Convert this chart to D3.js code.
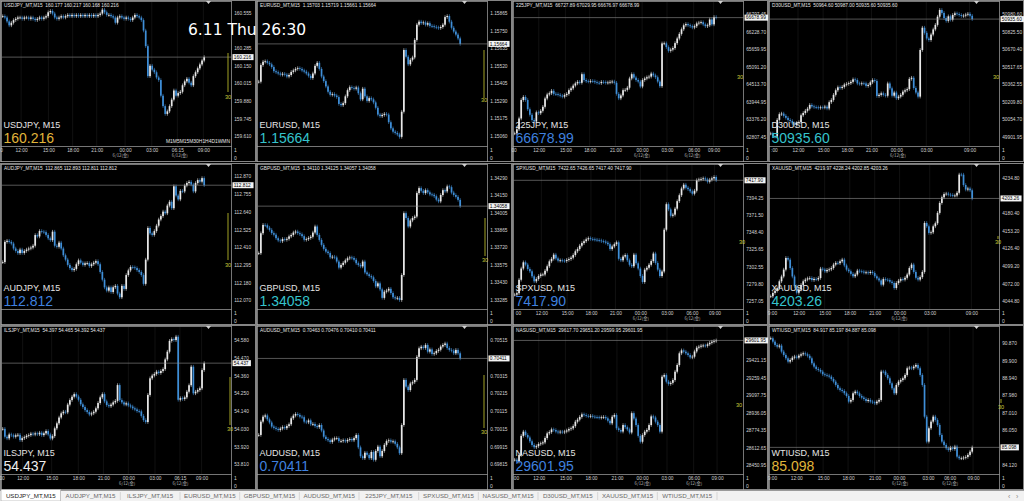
<!DOCTYPE html>
<html><head><meta charset="utf-8">
<script src="https://cdn.jsdelivr.net/npm/d3@7"></script>
<style>html,body{margin:0;padding:0;background:#000;overflow:hidden}svg{display:block}</style>
</head><body>
<svg id="c" width="1024" height="501"></svg>
<script>
// ---------------- DATA ----------------
const symbols = ["USDJPY","EURUSD","225JPY","D30USD","AUDJPY","GBPUSD","SPXUSD","XAUUSD","ILSJPY","AUDUSD","NASUSD","WTIUSD"];

const usdjpyClose = [160.53,160.52,160.49,160.46,160.48,160.50,160.51,160.52,160.52,160.51,
160.52,160.52,160.51,160.52,160.51,160.50,160.51,160.52,160.51,160.52,
160.53,160.56,160.57,160.55,160.52,160.51,160.52,160.53,160.52,160.53,
160.54,160.53,160.54,160.53,160.54,160.53,160.54,160.53,160.54,160.53,
160.54,160.53,160.54,160.53,160.54,160.55,160.58,160.56,160.54,160.54,
160.53,160.52,160.48,160.52,160.53,160.52,160.51,160.52,160.51,160.50,
160.52,160.54,160.53,160.52,160.50,160.42,160.30,160.07,160.15,160.12,
160.10,160.06,160.04,159.92,159.84,159.78,159.80,159.84,159.89,159.96,
159.92,159.94,159.95,160.00,160.03,160.05,160.02,160.00,160.07,160.10,
160.13,160.16,160.19,160.216];
const eurusdClose = [1.15416,1.15525,1.15547,1.15550,1.15540,1.15530,1.15512,1.15485,1.15478,1.15470,
1.15462,1.15468,1.15462,1.15450,1.15460,1.15480,1.15490,1.15500,1.15505,1.15500,
1.15490,1.15482,1.15470,1.15455,1.15440,1.15470,1.15520,1.15540,1.15500,1.15450,
1.15420,1.15385,1.15350,1.15330,1.15335,1.15325,1.15315,1.15270,1.15262,1.15275,
1.15320,1.15360,1.15380,1.15375,1.15370,1.15378,1.15340,1.15300,1.15370,1.15320,
1.15290,1.15308,1.15300,1.15280,1.15245,1.15200,1.15190,1.15198,1.15205,1.15200,
1.15150,1.15110,1.15088,1.15080,1.15070,1.15054,1.15219,1.15624,1.15580,1.15530,
1.15560,1.15575,1.15690,1.15790,1.15810,1.15800,1.15805,1.15790,1.15800,1.15782,
1.15780,1.15776,1.15772,1.15768,1.15775,1.15790,1.15840,1.15847,1.15810,1.15770,
1.15745,1.15725,1.15700,1.15664];
const jp225Close = [62916,63050,63400,64000,64100,64000,63700,63520,63350,63300,
63600,63570,63650,63780,64050,64180,64220,64300,64200,64190,
64170,64140,64110,64160,64200,64320,64380,64470,64540,64590,
64560,64840,64650,64610,64600,64620,64610,64580,64560,64550,
64590,64580,64560,64570,64590,64600,64560,64200,64055,64150,
64320,64330,64400,64700,64840,64730,64650,64600,64440,64650,
64700,64740,64760,64860,64800,64740,64600,64450,65840,65843,
65720,65600,65640,65690,65850,66000,66150,66300,66430,66470,
66430,66400,66360,66400,66490,66515,66530,66460,66400,66430,
66620,66460,66700,66678.99];
const d30Close = [49930,49905,49902,50050,50100,50105,50085,50068,50049,50040,
50018,50006,50022,50030,50090,50110,50130,50148,50181,50168,
50162,50160,50155,50160,50158,50166,50150,50205,50225,50270,
50310,50336,50330,50340,50360,50366,50372,50384,50406,50400,
50370,50366,50371,50370,50348,50357,50380,50400,50392,50260,
50270,50283,50270,50262,50370,50327,50262,50290,50240,50254,
50270,50298,50310,50320,50410,50420,50330,50290,50254,50664,
50860,50815,50765,50752,50800,50845,50885,50957,51016,50990,
50945,50920,50960,50930,50972,50986,50980,50972,50963,50966,
50975,50982,50965,50935.60];
const audjpyClose = [112.314,112.445,112.452,112.445,112.434,112.402,112.386,112.372,112.395,112.373,
112.386,112.395,112.402,112.408,112.420,112.489,112.480,112.515,112.511,112.508,
112.490,112.468,112.456,112.511,112.420,112.413,112.440,112.402,112.358,112.330,
112.296,112.275,112.262,112.270,112.300,112.325,112.310,112.296,112.306,112.308,
112.288,112.300,112.310,112.320,112.300,112.250,112.200,112.150,112.129,112.150,
112.120,112.151,112.160,112.110,112.086,112.160,112.140,112.230,112.260,112.282,
112.280,112.275,112.262,112.250,112.230,112.173,112.330,112.535,112.500,112.490,
112.515,112.550,112.590,112.612,112.641,112.630,112.680,112.705,112.663,112.805,
112.745,112.720,112.775,112.772,112.810,112.826,112.834,112.816,112.772,112.826,
112.845,112.835,112.858,112.812];
const gbpusdClose = [1.33669,1.33834,1.33903,1.33900,1.33880,1.33862,1.33835,1.33822,1.33793,1.33775,
1.33768,1.33786,1.33780,1.33788,1.33808,1.33820,1.33840,1.33848,1.33835,1.33826,
1.33810,1.33780,1.33785,1.33795,1.33805,1.33840,1.33890,1.33820,1.33779,1.33738,
1.33705,1.33682,1.33670,1.33635,1.33640,1.33634,1.33600,1.33550,1.33572,1.33590,
1.33610,1.33627,1.33634,1.33630,1.33615,1.33586,1.33572,1.33560,1.33600,1.33510,
1.33495,1.33480,1.33470,1.33440,1.33395,1.33420,1.33370,1.33300,1.33351,1.33360,
1.33375,1.33340,1.33305,1.33296,1.33300,1.33282,1.33489,1.34000,1.33960,1.33890,
1.33940,1.33960,1.33972,1.34166,1.34207,1.34185,1.34166,1.34190,1.34172,1.34155,
1.34152,1.34140,1.34112,1.34097,1.34150,1.34190,1.34180,1.34221,1.34215,1.34170,
1.34150,1.34135,1.34110,1.34058];
const spxClose = [7265.1,7267.0,7285.0,7300.0,7308.3,7305.2,7299.4,7296.3,7289.6,7282.9,
7286.0,7290.0,7292.0,7292.0,7297.0,7303.0,7309.6,7313.0,7318.5,7313.5,
7310.5,7311.0,7310.5,7310.0,7311.5,7312.7,7314.5,7318.0,7323.0,7326.0,
7330.5,7334.0,7336.5,7339.0,7340.5,7339.5,7339.0,7338.5,7338.0,7337.5,
7336.5,7336.0,7334.5,7332.5,7326.0,7329.5,7332.5,7335.0,7313.0,7311.0,
7316.0,7318.0,7311.0,7305.0,7303.0,7318.5,7307.0,7300.0,7290.0,7282.0,
7298.5,7301.0,7305.0,7310.0,7320.0,7307.4,7298.5,7290.0,7296.0,7351.9,
7386.0,7379.0,7370.5,7372.0,7380.0,7390.0,7398.0,7407.0,7412.0,7408.0,
7406.0,7403.2,7400.0,7404.0,7418.0,7419.0,7419.6,7420.5,7419.0,7416.0,
7418.7,7420.5,7422.3,7417.9];
const xauClose = [4052.5,4057.6,4061.0,4065.0,4075.6,4083.0,4093.6,4111.5,4109.0,4096.0,
4083.0,4067.9,4058.0,4063.0,4070.0,4075.6,4078.2,4080.0,4080.7,4077.5,
4079.2,4078.5,4080.7,4095.0,4093.6,4091.0,4093.0,4094.0,4096.1,4101.3,
4104.0,4103.5,4106.4,4109.0,4100.0,4093.6,4091.0,4087.0,4083.3,4086.0,
4092.0,4091.0,4090.5,4089.0,4089.4,4088.4,4090.0,4088.4,4083.3,4080.0,
4077.0,4070.4,4079.0,4078.0,4077.5,4075.0,4073.0,4065.3,4073.0,4076.5,
4079.0,4078.2,4081.0,4086.0,4096.0,4101.3,4090.0,4081.0,4078.2,4082.0,
4090.0,4165.5,4160.3,4150.1,4151.1,4160.3,4165.0,4181.0,4196.3,4205.0,
4210.0,4210.7,4209.1,4208.5,4207.6,4207.8,4212.0,4240.0,4239.9,4224.0,
4217.0,4218.5,4215.8,4203.26];
const ilsjpyClose = [54.030,53.981,53.971,53.995,53.990,53.981,53.990,53.993,53.960,53.972,
53.978,53.987,53.991,54.000,53.995,54.002,53.996,54.006,53.991,54.002,
54.016,53.995,53.970,53.985,54.033,54.064,54.100,54.126,54.136,54.132,
54.180,54.208,54.229,54.245,54.230,54.210,54.182,54.165,54.146,54.134,
54.119,54.126,54.136,54.157,54.190,54.225,54.245,54.200,54.177,54.170,
54.180,54.194,54.203,54.301,54.208,54.194,54.181,54.188,54.175,54.168,
54.157,54.150,54.140,54.138,54.110,54.084,54.072,54.240,54.343,54.360,
54.370,54.384,54.376,54.388,54.400,54.460,54.508,54.575,54.586,54.580,
54.601,54.210,54.220,54.215,54.225,54.260,54.300,54.415,54.250,54.260,
54.270,54.281,54.394,54.437];
const audusdClose = [0.69980,0.70055,0.70083,0.70090,0.70068,0.70050,0.70027,0.70020,0.70014,0.70008,
0.70016,0.70024,0.70018,0.70030,0.70040,0.70074,0.70089,0.70098,0.70093,0.70083,
0.70080,0.70055,0.70051,0.70062,0.70040,0.70042,0.70030,0.70024,0.70036,0.70005,
0.69970,0.69957,0.69950,0.69940,0.69954,0.69961,0.69962,0.69945,0.69946,0.69950,
0.69944,0.69952,0.69957,0.69950,0.69962,0.69980,0.69910,0.69860,0.69849,0.69880,
0.69868,0.69849,0.69884,0.69840,0.69890,0.69914,0.69860,0.69890,0.69924,0.69945,
0.69950,0.69942,0.69944,0.69930,0.69910,0.69877,0.70036,0.70290,0.70252,0.70233,
0.70270,0.70277,0.70290,0.70420,0.70468,0.70477,0.70470,0.70487,0.70449,0.70462,
0.70436,0.70440,0.70453,0.70460,0.70478,0.70487,0.70495,0.70470,0.70459,0.70455,
0.70440,0.70459,0.70440,0.70411];
const nasClose = [28500,28482,28543,28720,28759,28728,28705,28670,28636,28615,
28625,28645,28651,28660,28700,28743,28755,28780,28774,28760,
28752,28759,28753,28760,28770,28783,28790,28810,28851,28870,
28895,28919,28913,28905,28900,28905,28897,28894,28892,28888,
28892,28895,28882,28860,28836,28897,28913,28790,28774,28760,
28820,28800,28780,28751,28930,28880,28820,28720,28666,28728,
28759,28775,28820,28900,28890,28851,28820,28759,29267,29282,
29221,29200,29210,29236,29313,29375,29483,29510,29498,29483,
29467,29445,29452,29500,29535,29544,29553,29555,29552,29566,
29580,29590,29597,29601.95];
const wtiClose = [91.147,90.962,90.778,90.685,90.741,90.408,90.223,90.038,89.853,89.946,
90.075,90.131,90.075,90.186,90.260,90.315,90.260,90.180,90.038,89.761,
89.576,89.447,89.391,89.299,89.151,89.114,89.077,89.022,88.892,88.744,
88.559,88.375,88.282,88.227,88.097,87.950,87.635,87.728,88.097,88.190,
88.097,87.950,87.857,87.783,87.672,87.728,87.635,87.600,87.543,87.635,
87.728,89.300,89.299,89.114,88.929,88.652,88.375,88.097,88.559,88.744,
88.837,88.929,89.114,89.484,89.521,89.484,89.576,89.669,89.484,89.114,
88.559,86.800,85.417,86.157,86.526,86.803,86.619,86.341,85.787,85.417,
85.232,85.047,84.955,85.084,85.010,85.140,84.585,84.493,84.493,84.530,
84.567,84.678,84.860,85.098];

// visible price range of each panel's vertical scale
const priceRanges = [[159.534,160.639],[1.14994,1.15939],[62505,67187],[49820,51086],
 [112.010,112.943],[1.33208,1.34398],[7245.9,7438.35],[4032.9,4254.8],
 [53.750,54.661],[0.69760,0.70588],[28367.8,29726],[83.621,91.774]];
// price-axis tick labels
const priceTicks = [
 [160.555,160.285,160.150,160.015,159.880,159.745,159.610],
 [1.15865,1.15750,1.15635,1.15520,1.15405,1.15290,1.15175,1.15060],
 [66797.45,66228.70,65659.95,65091.20,64513.70,63944.95,63376.20,62807.45],
 [50980.60,50825.50,50670.40,50517.65,50362.55,50209.80,50054.70,49901.95],
 [112.870,112.755,112.640,112.525,112.410,112.295,112.180,112.070],
 [1.34290,1.34150,1.34005,1.33865,1.33720,1.33575,1.33430,1.33285],
 [7394.25,7371.50,7348.40,7325.65,7302.55,7279.80,7257.05],
 [4234.80,4180.40,4153.20,4126.40,4099.20,4072.00,4044.80],
 [54.580,54.470,54.360,54.250,54.140,54.030,53.920,53.810],
 [0.70515,0.70315,0.70215,0.70115,0.70015,0.69915,0.69815],
 [29421.15,29259.45,29097.75,28936.05,28774.35,28612.65,28450.95],
 [90.870,89.900,88.940,87.980,87.010,86.050,84.120]];
const decimals = [3,5,2,2,3,5,2,2,3,5,2,3];
// header OHLC of the last bar
const headerOHLC = [
 [160.177,160.217,160.168,160.216],[1.15703,1.15719,1.15661,1.15664],
 [66727.89,67029.95,66676.97,66678.99],[50964.60,50987.00,50935.60,50935.60],
 [112.865,112.893,112.811,112.812],[1.34110,1.34125,1.34057,1.34058],
 [7422.65,7426.65,7417.40,7417.90],[4219.97,4228.24,4202.85,4203.26],
 [54.397,54.465,54.392,54.437],[0.70463,0.70476,0.70410,0.70411],
 [29617.70,29651.20,29599.95,29601.95],[84.917,85.197,84.887,85.098]];
// time axis labels (null = panel has an empty sub-window instead of a time axis)
const timeLabels = [
 ["0","12:00","15:00","18:00","21:00","00:00","03:00","06:15","09:00"], null,
 ["00","12:00","15:00","18:00","21:00","00:00","03:00","06:00","09:00"],
 [":00","12:00","15:00","18:00","21:00","00:00","03:00","09:00"],
 null, null,
 ["00","12:00","15:00","18:00","21:00","00:00","03:00","06:00","09:00"],
 ["9:00","12:00","15:00","18:00","21:00","00:00","03:00","09:00"],
 ["00","12:00","15:00","18:00","21:00","00:00","03:00","06:15","09:00"], null,
 ["00","12:00","15:00","18:00","21:00","00:00","03:00","06:00","09:00"],
 ["9:00","12:00","15:00","18:00","21:00","00:00","03:00","06:00","09:00"]];
// bar index under each time label
const timeBars = [
 [-0.8,8.5,21.1,32.3,43.4,56.5,68.8,80.6,92.6], null,
 [-0.5,11.1,23.4,34.6,46.5,58.8,70.3,82.6,91.8],
 [1.5,12.6,24.2,35.2,46.5,58,71.8,91.8],
 null, null,
 [1.5,12.3,24.2,35.2,46.5,58,70.3,81.8,92.2],
 [0.6,12.9,24.9,36.5,48,59.5,73.4,92.6],
 [-0.5,9.2,22.6,34.9,46.5,58,70.3,81.8,91.8], null,
 [0.6,11.1,23.4,35.2,47.2,58.8,70.3,82.6,93.4],
 [0.6,11.8,24.2,35.7,48,59.2,72.6,82.6,93.4]];
const dateLabel = "6/12(金)";
const dateBars = [[54.2,81.5],null,[58.5,81.8],[58.5],null,null,[58,81.8],[59.2],[57.2,81.8],null,[58.8,82.6],[59.5,82.6]];
const tabLabels = ["USDJPY_MT,M15","AUDJPY_MT,M15","ILSJPY_MT,M15","EURUSD_MT,M15","GBPUSD_MT,M15","AUDUSD_MT,M15",
 "225JPY_MT,M15","SPXUSD_MT,M15","NASUSD_MT,M15","D30USD_MT,M15","XAUUSD_MT,M15","WTIUSD_MT,M15"];
const closes = [usdjpyClose,eurusdClose,jp225Close,d30Close,audjpyClose,gbpusdClose,spxClose,xauClose,ilsjpyClose,audusdClose,nasClose,wtiClose];
const overlayText = "6.11 Thu 26:30";
const periodText = "M1M5M15M30H1H4D1WMN";

// ---------------- STYLE / LAYOUT ----------------
const priceColors = ["#e0b53a","#35c3cc","#3f80df","#35c3cc","#3f80df","#35c3cc","#3f80df","#35c3cc","#eeeeee","#3f80df","#3f80df","#e0b53a"];
const markerLayout = [
 {x:228,l:[53,92],t:97},{x:228,l:[50,98],t:100},{x:228,l:null,t:77},{x:228,l:null,t:77},
 {x:228,l:[50,97],t:101.5},{x:229,l:[55,93],t:97},{x:230,l:null,t:79},{x:230,l:[73,76],t:79},
 {x:230,l:[52,100],t:104},{x:228,l:[50,103],t:107},{x:227,l:null,t:80},{x:233,l:[74,78],t:82}];
const colX = [0,256,512,768], rowY = [0,163,325], plotBot = [146,146,149], panelH = [162,162,165];
const BULL = "#e8e8e8", BEAR = "#3f8fd8";
const FONT = "'Liberation Sans', Arial, sans-serif";

const svg = d3.select("#c");
svg.append("rect").attr("width",1024).attr("height",501).attr("fill","#000");
const defs = svg.append("defs");

closes.forEach((close, k) => {
  const col = k % 4, row = Math.floor(k / 4);
  const px = colX[col], py = rowY[row];
  const top = py + 2, bottom = py + plotBot[row], pb = py + panelH[row];
  const dec = decimals[k];
  const fmt = d3.format("." + dec + "f");
  const g = svg.append("g");
  const x = d3.scaleLinear().domain([0, close.length - 1]).range([px + 2.7, px + 204.2]);
  const y = d3.scaleLinear().domain(priceRanges[k]).range([bottom, top]);

  // frames
  g.append("rect").attr("x", px + 0.5).attr("y", py + 0.5).attr("width", 255).attr("height", panelH[row] - 1)
    .attr("fill", "none").attr("stroke", "#858585").attr("stroke-width", 1);
  g.append("line").attr("x1", px + 1).attr("x2", px + 231.5).attr("y1", py + 1.5).attr("y2", py + 1.5).attr("stroke", "#a8a8a8").attr("stroke-width", 0.7);
  g.append("line").attr("x1", px + 1.5).attr("x2", px + 1.5).attr("y1", py + 1).attr("y2", pb).attr("stroke", "#a8a8a8").attr("stroke-width", 0.7);
  g.append("line").attr("x1", px + 231.5).attr("x2", px + 231.5).attr("y1", py + 1).attr("y2", pb).attr("stroke", "#a8a8a8").attr("stroke-width", 0.7);
  g.append("line").attr("x1", px + 1).attr("x2", px + 231.5).attr("y1", bottom + 0.5).attr("y2", bottom + 0.5).attr("stroke", "#a8a8a8").attr("stroke-width", 0.7);

  // faint period separators
  if (timeBars[k]) {
    g.selectAll(".sep").data(timeBars[k].slice(1)).enter().append("line")
      .attr("x1", d => x(d)).attr("x2", d => x(d)).attr("y1", top).attr("y2", bottom)
      .attr("stroke", "#181818").attr("stroke-width", 0.7);
  }

  // candles
  const cid = "clip" + k;
  defs.append("clipPath").attr("id", cid).append("rect")
    .attr("x", px + 2).attr("y", top).attr("width", 229).attr("height", bottom - top);
  const bars = close.map((c, i) => ({ i, o: i ? close[i - 1] : c, c }));
  const cg = g.append("g").attr("clip-path", "url(#" + cid + ")");
  const cs = cg.selectAll(".cd").data(bars).enter().append("g");
  cs.append("line")
    .attr("x1", d => x(d.i)).attr("x2", d => x(d.i))
    .attr("y1", d => y(Math.max(d.o, d.c)) - 1.8).attr("y2", d => y(Math.min(d.o, d.c)) + 1.8)
    .attr("stroke", d => d.c >= d.o ? BULL : BEAR).attr("stroke-width", 0.6);
  cs.append("rect")
    .attr("x", d => x(d.i) - 0.85).attr("width", 1.7)
    .attr("y", d => y(Math.max(d.o, d.c)))
    .attr("height", d => Math.max(0.8, Math.abs(y(d.o) - y(d.c))))
    .attr("fill", d => d.c >= d.o ? BULL : BEAR);

  const last = close[close.length - 1];
  // current price line
  g.append("line").attr("x1", px + 1.5).attr("x2", px + 232).attr("y1", y(last)).attr("y2", y(last))
    .attr("stroke", "#8e8e8e").attr("stroke-width", 0.6);

  // header
  g.append("text").attr("x", px + 4).attr("y", py + 7).attr("font-family", FONT).attr("font-size", 4.8)
    .attr("fill", "#e6e6e6").attr("xml:space", "preserve")
    .text(symbols[k] + "_MT,M15  " + headerOHLC[k].map(fmt).join(" "));
  // chart-shift marker
  g.append("path").attr("d", `M${px + 206},${py + 1}L${px + 211},${py + 1}L${px + 208.5},${py + 4}Z`).attr("fill", "#d0d0d0");

  // symbol + big price
  g.append("text").attr("x", px + 3.5).attr("y", bottom - 17.6).attr("font-family", FONT).attr("font-size", 9)
    .attr("fill", "#e4e4e4").text(symbols[k] + ", M15");
  g.append("text").attr("x", px + 3.5).attr("y", bottom - 3.3).attr("font-family", FONT).attr("font-size", 14)
    .attr("fill", priceColors[k]).text(fmt(last));

  // price axis
  const ay = d3.axisRight(y).tickValues(priceTicks[k]).tickSize(0).tickPadding(2.2).tickFormat(fmt);
  g.append("g").attr("transform", `translate(${px + 232},0)`).call(ay)
    .attr("font-family", FONT).attr("font-size", 4.8).attr("color", "#d4d4d4")
    .call(s => s.select(".domain").remove());
  // current price box
  const lbl = fmt(last);
  const bw = lbl.length * 2.65 + 2.5;
  g.append("rect").attr("x", px + 232.5).attr("y", y(last) - 3).attr("width", bw).attr("height", 6).attr("fill", "#f4f4f4");
  g.append("text").attr("x", px + 233.8).attr("y", y(last) + 1.7).attr("font-family", FONT).attr("font-size", 4.8)
    .attr("fill", "#000").text(lbl);

  // sub-window scale 1 / 0
  g.append("text").attr("x", px + 234).attr("y", bottom + 6).attr("font-family", FONT).attr("font-size", 5).attr("fill", "#d4d4d4").text("1");
  g.append("text").attr("x", px + 234).attr("y", bottom + 14).attr("font-family", FONT).attr("font-size", 5).attr("fill", "#d4d4d4").text("0");

  // time axis
  if (timeLabels[k]) {
    const ax = d3.axisBottom(x).tickValues(timeBars[k]).tickSize(0).tickPadding(2.4)
      .tickFormat((d, i) => timeLabels[k][i]);
    g.append("g").attr("transform", `translate(0,${bottom})`).call(ax)
      .attr("font-family", FONT).attr("font-size", 4.8).attr("color", "#d0d0d0")
      .call(s => s.select(".domain").remove());
    const dx = d3.axisBottom(x).tickValues(dateBars[k]).tickSize(0).tickPadding(8.2).tickFormat(() => dateLabel);
    g.append("g").attr("transform", `translate(0,${bottom})`).call(dx)
      .attr("font-family", "'Noto Sans CJK JP', " + FONT).attr("font-size", 4.3).attr("color", "#b8b8b8")
      .call(s => s.select(".domain").remove());
  }

  // "30" marker
  const m = markerLayout[k];
  if (m.l) g.append("line").attr("x1", px + m.x).attr("x2", px + m.x).attr("y1", py + m.l[0]).attr("y2", py + m.l[1])
    .attr("stroke", "#b4b428").attr("stroke-width", 0.9);
  g.append("text").attr("x", px + m.x).attr("y", py + m.t + 2).attr("text-anchor", "middle")
    .attr("font-family", FONT).attr("font-size", 5.6).attr("fill", "#cccc3c").text("30");

  if (k === 0) {
    g.append("text").attr("x", px + 166).attr("y", bottom - 3.2).attr("font-family", FONT).attr("font-size", 5.1)
      .attr("fill", "#e8e8e8").attr("textLength", 64).attr("lengthAdjust", "spacingAndGlyphs").text(periodText);
  }
});

// tab bar
const tabs = svg.append("g");
tabs.append("rect").attr("x", 0).attr("y", 490).attr("width", 1024).attr("height", 11).attr("fill", "#f2f2f2");
tabs.append("line").attr("x1", 0).attr("x2", 1024).attr("y1", 490.5).attr("y2", 490.5).attr("stroke", "#9a9a9a").attr("stroke-width", 1);
const tb = d3.scaleBand().domain(tabLabels).range([1, 717]);
tabs.selectAll(".tab").data(tabLabels).enter().append("g").each(function (d, i) {
  const t = d3.select(this);
  if (i === 0) t.append("rect").attr("x", tb(d)).attr("y", 489.5).attr("width", tb.bandwidth()).attr("height", 11.5)
    .attr("fill", "#ffffff").attr("stroke", "#a0a0a0").attr("stroke-width", 0.6);
  else t.append("line").attr("x1", tb(d) + tb.bandwidth()).attr("x2", tb(d) + tb.bandwidth()).attr("y1", 492).attr("y2", 500)
    .attr("stroke", "#c4c4c4").attr("stroke-width", 0.6);
  t.append("text").attr("x", tb(d) + tb.bandwidth() / 2).attr("y", 498.3).attr("text-anchor", "middle")
    .attr("font-family", FONT).attr("font-size", 6.2).attr("fill", i === 0 ? "#1a1a1a" : "#6a6a6a").text(d);
});
tabs.append("text").attr("x", 1008).attr("y", 498.5).attr("font-family", FONT).attr("font-size", 7).attr("fill", "#888").text("‹");
tabs.append("text").attr("x", 1016).attr("y", 498.5).attr("font-family", FONT).attr("font-size", 7).attr("fill", "#888").text("›");

// overlay clock text
svg.append("text").attr("x", 188).attr("y", 35).attr("font-family", "'DejaVu Sans', Verdana, sans-serif")
  .attr("font-size", 15.5).attr("fill", "#ffffff").text(overlayText);
</script>
</body></html>
